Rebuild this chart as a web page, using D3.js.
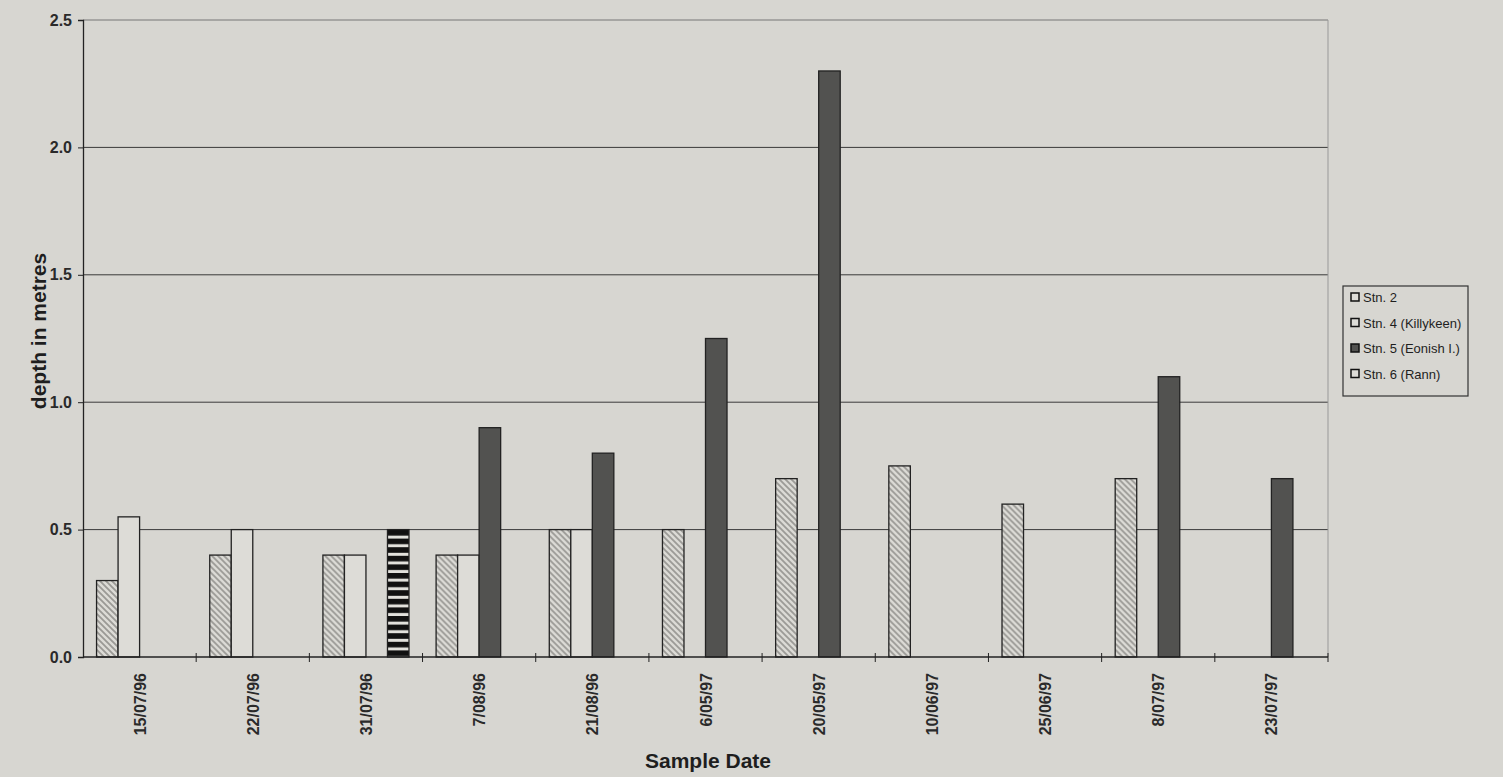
<!DOCTYPE html>
<html>
<head>
  <meta charset="utf-8">
  <title>Depth by sample date</title>
  <script src="https://d3js.org/d3.v7.min.js"></script>
  <style>
    body { margin: 0; background: #d7d6d1; }
    svg { display: block; font-family: "Liberation Sans", Arial, sans-serif; }
  </style>
</head>
<body>
  <svg id="chart" width="1503" height="777"></svg>
  <script>
    /* data */
    var dates = ["15/07/96", "22/07/96", "31/07/96", "7/08/96", "21/08/96", "6/05/97",
                 "20/05/97", "10/06/97", "25/06/97", "8/07/97", "23/07/97"];
    var stations = ["Stn. 2", "Stn. 4 (Killykeen)", "Stn. 5 (Eonish I.)", "Stn. 6 (Rann)"];
    var stn2 = [0.3, 0.4, 0.4, 0.4, 0.5, 0.5, 0.7, 0.75, 0.6, 0.7, null];
    var stn4 = [0.55, 0.5, 0.4, 0.4, 0.5, null, null, null, null, null, null];
    var stn5 = [null, null, null, 0.9, 0.8, 1.25, 2.3, null, null, 1.1, 0.7];
    var stn6 = [null, null, 0.5, null, null, null, null, null, null, null, null];
    var yTicks = [0, 0.5, 1.0, 1.5, 2.0, 2.5];

    var series = [stn2, stn4, stn5, stn6];

    var svg = d3.select("#chart");
    // note: "top" is taken by window.top, so plot edges get their own names
    var plotLeft = 83, plotRight = 1328, plotTop = 20, plotBottom = 657;

    /* fill patterns */
    var defs = svg.append("defs");
    var hatch = defs.append("pattern")
      .attr("id", "hatch").attr("patternUnits", "userSpaceOnUse")
      .attr("width", 6).attr("height", 6);
    hatch.append("rect").attr("width", 6).attr("height", 6).attr("fill", "#dcdbd6");
    hatch.append("path")
      .attr("d", "M-1,-1 L7,7 M-4,2 L4,10 M2,-4 L10,4")
      .attr("stroke", "#9a9995").attr("stroke-width", 1.8);

    var stripes = defs.append("pattern")
      .attr("id", "stripes").attr("patternUnits", "userSpaceOnUse")
      .attr("width", 8).attr("height", 8.6).attr("y", 530);
    stripes.append("rect").attr("width", 8).attr("height", 8.6).attr("fill", "#e2e1dc");
    stripes.append("rect").attr("width", 8).attr("height", 5.6).attr("fill", "#111");

    var fills = ["url(#hatch)", "#dddcd7", "#525250", "url(#stripes)"];

    var x = d3.scaleBand().domain(dates).range([plotLeft, plotRight]);
    var x1 = d3.scaleBand().domain(d3.range(4)).range([0, x.bandwidth()]).paddingOuter(0.63);
    var y = d3.scaleLinear().domain([0, 2.5]).range([plotBottom, plotTop]);

    /* gridlines */
    svg.append("g").selectAll("line")
      .data(yTicks.slice(1))
      .enter().append("line")
      .attr("x1", plotLeft).attr("x2", plotRight)
      .attr("y1", function(d) { return y(d); })
      .attr("y2", function(d) { return y(d); })
      .attr("stroke", function(d) { return d == 2.5 ? "#777" : "#3a3a3a"; })
      .attr("stroke-width", 1);

    /* right border of plot area */
    svg.append("line")
      .attr("x1", plotRight).attr("x2", plotRight).attr("y1", plotTop).attr("y2", plotBottom)
      .attr("stroke", "#999").attr("stroke-width", 1);

    /* bars */
    var groups = svg.append("g").selectAll("g")
      .data(dates)
      .enter().append("g")
      .attr("transform", function(d) { return "translate(" + x(d) + ",0)"; });

    groups.selectAll("rect")
      .data(function(d, i) {
        return series.map(function(s, k) { return {k: k, v: s[i]}; })
                     .filter(function(e) { return e.v != null; });
      })
      .enter().append("rect")
      .attr("x", function(e) { return x1(e.k); })
      .attr("width", x1.bandwidth())
      .attr("y", function(e) { return y(e.v); })
      .attr("height", function(e) { return y(0) - y(e.v); })
      .attr("fill", function(e) { return fills[e.k]; })
      .attr("stroke", "#222")
      .attr("stroke-width", 1.3);

    /* y axis */
    var yAxis = svg.append("g")
      .attr("transform", "translate(" + plotLeft + ",0)")
      .call(d3.axisLeft(y).tickValues(yTicks).tickFormat(d3.format(".1f")).tickSize(5).tickPadding(6));
    yAxis.select(".domain").attr("stroke", "#222").attr("stroke-width", 1.3);
    yAxis.selectAll("line").attr("stroke", "#222");
    yAxis.selectAll("text").attr("font-size", 16).attr("font-weight", "bold").attr("fill", "#2a2a2a");

    /* x axis: ticks between categories */
    svg.append("line")
      .attr("x1", plotLeft).attr("x2", plotRight).attr("y1", plotBottom).attr("y2", plotBottom)
      .attr("stroke", "#222").attr("stroke-width", 1.3);
    svg.append("g").selectAll("line")
      .data(dates.slice(1).concat(["end"]))
      .enter().append("line")
      .attr("x1", function(d) { return d == "end" ? plotRight : x(d); })
      .attr("x2", function(d) { return d == "end" ? plotRight : x(d); })
      .attr("y1", plotBottom - 4).attr("y2", plotBottom + 5)
      .attr("stroke", "#222");

    svg.append("g").selectAll("text")
      .data(dates)
      .enter().append("text")
      .attr("transform", function(d) {
        return "translate(" + (x(d) + x.bandwidth() / 2 + 6) + "," + (plotBottom + 16) + ") rotate(-90)";
      })
      .attr("text-anchor", "end")
      .attr("font-size", 16).attr("font-weight", "bold").attr("fill", "#2a2a2a")
      .text(function(d) { return d; });

    /* axis titles */
    svg.append("text")
      .attr("transform", "translate(46,331) rotate(-90)")
      .attr("text-anchor", "middle")
      .attr("font-size", 21).attr("font-weight", "bold").attr("fill", "#1e1e1e")
      .text("depth in metres");

    svg.append("text")
      .attr("x", 708).attr("y", 768)
      .attr("text-anchor", "middle")
      .attr("font-size", 21).attr("font-weight", "bold").attr("fill", "#1e1e1e")
      .text("Sample Date");

    /* legend */
    var legend = svg.append("g").attr("transform", "translate(1343,286)");
    legend.append("rect")
      .attr("width", 125).attr("height", 110)
      .attr("fill", "none").attr("stroke", "#333").attr("stroke-width", 1.2);
    var items = legend.selectAll("g.item")
      .data(stations)
      .enter().append("g")
      .attr("class", "item")
      .attr("transform", function(d, i) { return "translate(8," + (6 + i * 25.5) + ")"; });
    items.append("rect")
      .attr("width", 8).attr("height", 8)
      .attr("y", 1)
      .attr("fill", function(d, i) { return i == 2 ? "#525250" : "#dddcd7"; })
      .attr("stroke", "#111").attr("stroke-width", 1.5);
    items.append("text")
      .attr("x", 12).attr("y", 10)
      .attr("font-size", 13).attr("fill", "#1e1e1e")
      .text(function(d) { return d; });
  </script>
</body>
</html>
